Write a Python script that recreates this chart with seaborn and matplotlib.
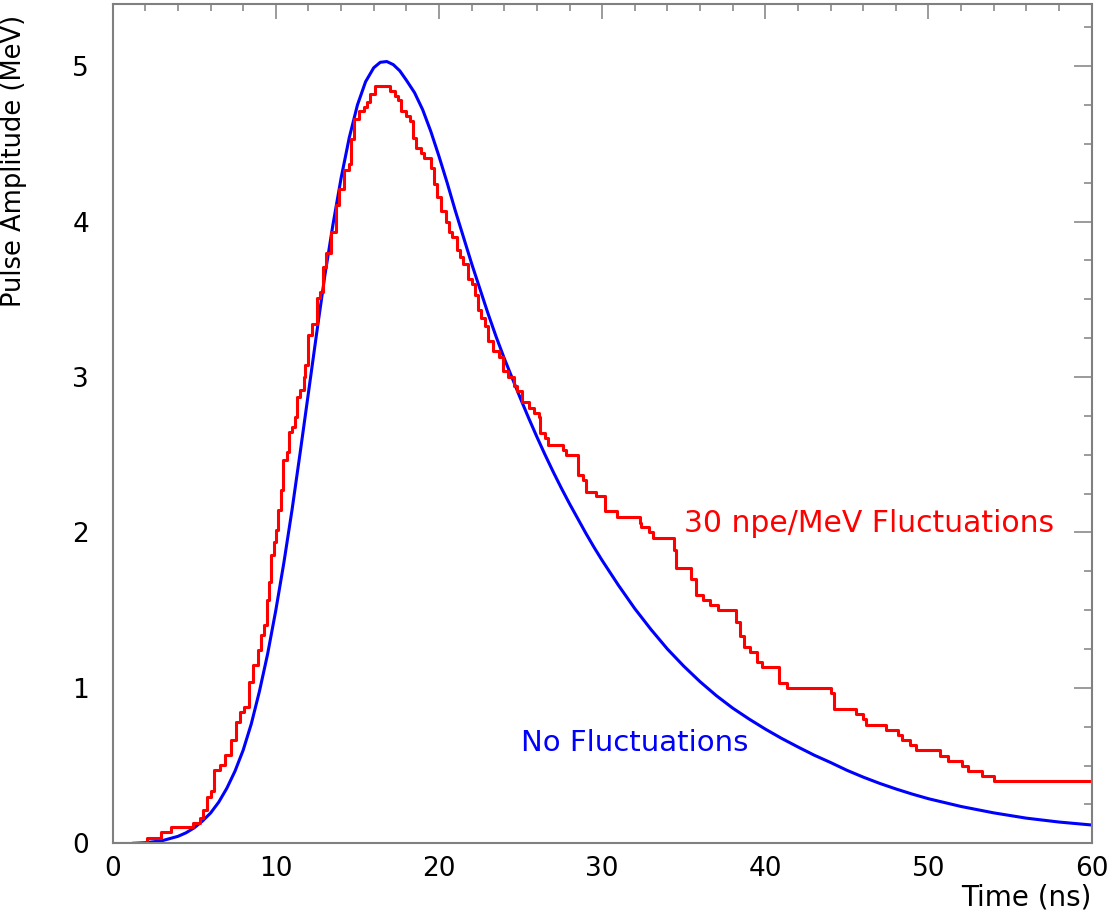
import matplotlib
matplotlib.use("Agg")
import matplotlib.pyplot as plt
from matplotlib.ticker import MultipleLocator
import seaborn as sns
import pandas as pd

# ---- data ----
blue_t = [1.2, 2.0, 3.0, 4.0, 4.5, 5.0, 5.5, 6.0, 6.5, 7.0, 7.5, 8.0, 8.5, 9.0, 9.5,
          10.0, 10.5, 11.0, 11.5, 12.0, 12.5, 13.0, 13.5, 14.0, 14.5, 15.0, 15.5,
          16.0, 16.4, 16.8, 17.2, 17.6, 18.0, 18.5, 19.0, 19.5, 20.0, 20.5, 21.0,
          21.5, 22.0, 22.5, 23.0, 23.5, 24.0, 24.5, 25.0, 25.5, 26.0, 26.5, 27.0,
          27.5, 28.0, 28.5, 29.0, 29.5, 30.0, 31.0, 32.0, 33.0, 34.0, 35.0, 36.0,
          37.0, 38.0, 39.0, 40.0, 41.0, 42.0, 43.0, 44.0, 45.0, 46.0, 47.0, 48.0,
          49.0, 50.0, 52.0, 54.0, 56.0, 58.0, 60.0]
blue_v = [0.0, 0.004, 0.016, 0.045, 0.068, 0.10, 0.143, 0.195, 0.265, 0.355, 0.465,
          0.60, 0.77, 0.98, 1.22, 1.50, 1.81, 2.15, 2.52, 2.90, 3.28, 3.65, 3.98,
          4.28, 4.54, 4.75, 4.90, 4.99, 5.025, 5.03, 5.01, 4.97, 4.91, 4.83, 4.72,
          4.58, 4.42, 4.25, 4.07, 3.90, 3.73, 3.57, 3.41, 3.26, 3.12, 2.99, 2.86,
          2.735, 2.615, 2.50, 2.39, 2.285, 2.185, 2.09, 1.995, 1.905, 1.82, 1.66,
          1.51, 1.375, 1.25, 1.14, 1.04, 0.95, 0.87, 0.80, 0.735, 0.675, 0.62,
          0.567, 0.52, 0.47, 0.426, 0.386, 0.35, 0.317, 0.287, 0.237, 0.196, 0.162,
          0.137, 0.118]

red_t = [0.0, 2.08, 2.96, 3.55, 4.94, 5.35, 5.55, 5.81, 6.01, 6.21, 6.56, 6.9, 7.23,
         7.53, 7.78, 8.08, 8.33, 8.59, 8.9, 9.1, 9.3, 9.46, 9.6, 9.7, 9.86, 10.0,
         10.15, 10.31, 10.47, 10.67, 10.81, 11.0, 11.2, 11.3, 11.5, 11.7, 11.8, 12.0,
         12.2, 12.5, 12.7, 12.9, 13.1, 13.4, 13.7, 13.9, 14.2, 14.5, 14.6, 14.8, 15.1,
         15.4, 15.6, 15.8, 16.1, 16.98, 17.3, 17.5, 17.7, 18.0, 18.2, 18.4, 18.6,
         18.9, 19.1, 19.5, 19.7, 19.9, 20.1, 20.4, 20.6, 20.8, 21.1, 21.3, 21.5,
         21.8, 22.0, 22.2, 22.4, 22.6, 22.8, 23.0, 23.3, 23.7, 23.9, 24.2, 24.6,
         24.8, 25.1, 25.5, 25.8, 26.1, 26.2, 26.5, 26.7, 27.6, 27.8, 28.5, 28.8,
         29.0, 29.6, 30.2, 30.9, 32.3, 32.4, 32.9, 33.1, 34.4, 34.5, 35.47, 35.78,
         36.19, 36.6, 37.1, 38.23, 38.44, 38.68, 39.05, 39.5, 39.77, 40.85, 41.3,
         44.0, 44.2, 45.55, 46.0, 46.2, 47.38, 48.14, 48.4, 48.85, 49.26, 50.69,
         51.2, 52.08, 52.43, 53.25, 54.02, 60.0]
red_v = [0.0, 0.037, 0.07, 0.105, 0.134, 0.166, 0.214, 0.295, 0.337, 0.472, 0.504,
         0.569, 0.665, 0.778, 0.842, 0.874, 1.035, 1.148, 1.245, 1.341, 1.406, 1.567,
         1.679, 1.856, 1.937, 2.017, 2.146, 2.275, 2.467, 2.516, 2.645, 2.677, 2.742,
         2.871, 2.919, 3.0, 3.08, 3.27, 3.34, 3.51, 3.55, 3.71, 3.80, 3.93, 4.11,
         4.21, 4.335, 4.37, 4.53, 4.66, 4.71, 4.74, 4.77, 4.82, 4.87, 4.84, 4.81,
         4.78, 4.71, 4.68, 4.65, 4.54, 4.475, 4.44, 4.41, 4.345, 4.24, 4.16, 4.07,
         4.0, 3.93, 3.90, 3.82, 3.77, 3.73, 3.63, 3.60, 3.53, 3.43, 3.38, 3.33, 3.23,
         3.165, 3.13, 3.04, 3.0, 2.94, 2.91, 2.84, 2.80, 2.77, 2.74, 2.64, 2.61,
         2.565, 2.53, 2.50, 2.37, 2.34, 2.26, 2.236, 2.135, 2.10, 2.064, 2.034, 2.0,
         1.964, 1.89, 1.77, 1.70, 1.60, 1.567, 1.535, 1.50, 1.427, 1.335, 1.266,
         1.234, 1.165, 1.133, 1.034, 0.998, 0.966, 0.865, 0.833, 0.80, 0.762, 0.73,
         0.697, 0.665, 0.63, 0.60, 0.562, 0.53, 0.498, 0.466, 0.433, 0.401, 0.401]

x_ticks = [0, 10, 20, 30, 40, 50, 60]
y_ticks = [0, 1, 2, 3, 4, 5]
x_label = "Time (ns)"
y_label = "Pulse Amplitude (MeV)"
red_text = "30 npe/MeV Fluctuations"
blue_text = "No Fluctuations"

# ---- plotting ----
sns.set_theme(style="white")
plt.rcParams['font.family'] = ['DejaVu Sans']
plt.rcParams['text.color'] = 'black'
plt.rcParams['axes.labelcolor'] = 'black'

fig = plt.figure(figsize=(11.11, 9.13), dpi=100)
ax = fig.add_axes([0.1014, 0.0763, 0.8812, 0.9193])

blue_df = pd.DataFrame({"t": blue_t, "v": blue_v})
red_df = pd.DataFrame({"t": red_t, "v": red_v})

sns.lineplot(data=blue_df, x="t", y="v", ax=ax, color="#0000ff", linewidth=2.2,
             estimator=None, sort=False)
sns.lineplot(data=red_df, x="t", y="v", ax=ax, color="#ff0000", linewidth=2.2,
             estimator=None, sort=False, drawstyle="steps-post")

ax.set_xlim(0, 60)
ax.set_ylim(0, 5.4)
ax.set_xticks(x_ticks)
ax.set_yticks(y_ticks)
ax.xaxis.set_minor_locator(MultipleLocator(2))
ax.yaxis.set_minor_locator(MultipleLocator(0.25))

spine_col = "#808080"
for s in ax.spines.values():
    s.set_color(spine_col)
    s.set_linewidth(1.5)
    s.set_visible(True)

ax.tick_params(axis="both", which="both", direction="in", top=True, right=True,
               color=spine_col, width=1.1, labelcolor="black", labelsize=19)
ax.tick_params(axis="x", which="major", length=10.8, pad=9)
ax.tick_params(axis="x", which="minor", length=5)
ax.tick_params(axis="y", which="major", length=13.3, pad=17)
ax.tick_params(axis="y", which="minor", length=6.1)

ax.set_xlabel(x_label, fontsize=20, loc="right", color="black")
ax.xaxis.set_label_coords(1.0, -0.048)
ax.set_ylabel(y_label, fontsize=18.5, loc="top", color="black")
ax.yaxis.set_label_coords(-0.088, 0.987)

ax.text(35.0, 2.0, red_text, color="#ff0000", fontsize=21.5, va="baseline", ha="left")
ax.text(25.05, 0.596, blue_text, color="#0000ff", fontsize=21, va="baseline", ha="left")

fig.savefig("out.png", dpi=100)
